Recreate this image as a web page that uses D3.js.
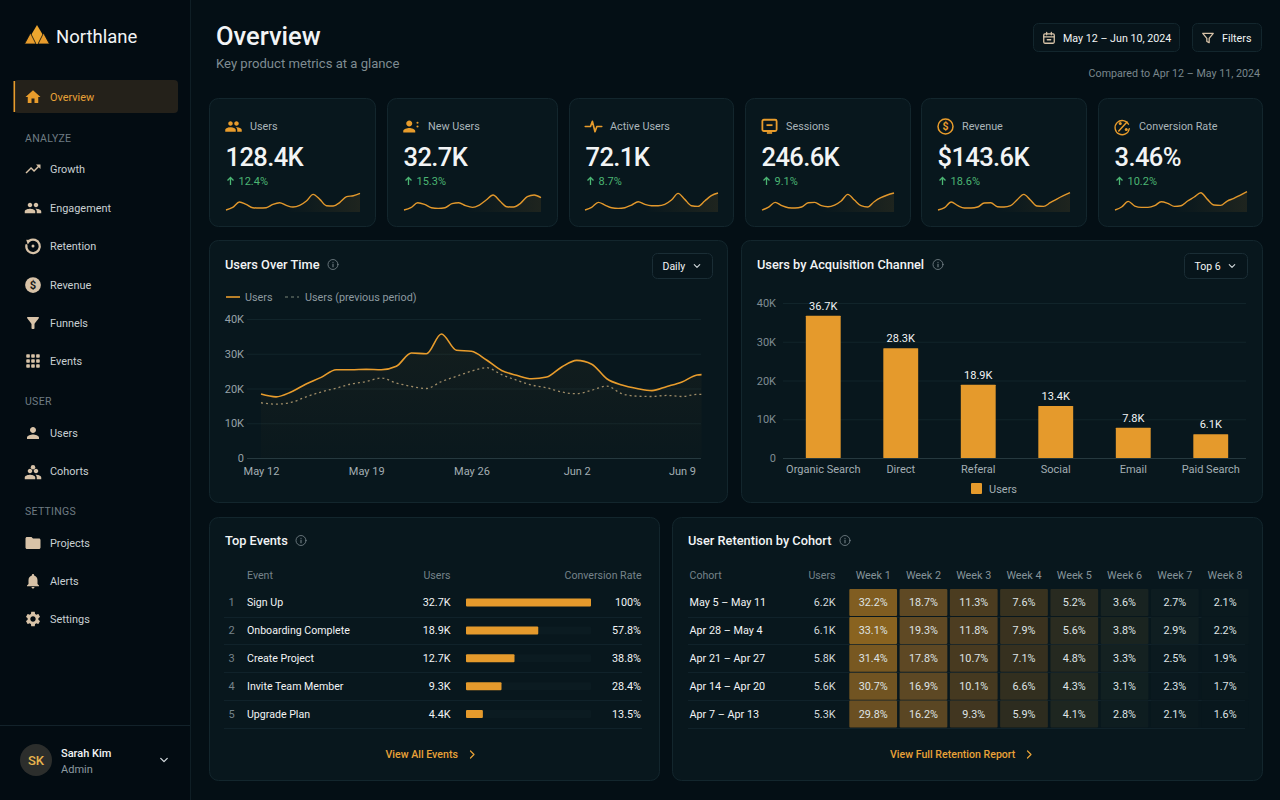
<!DOCTYPE html>
<html><head><meta charset="utf-8">
<script src="https://cdnjs.cloudflare.com/ajax/libs/d3/7.8.5/d3.min.js"></script>
<style>html,body{margin:0;padding:0;background:#030d13;overflow:hidden}svg{display:block}text{font-family:Roboto,sans-serif}</style>
</head><body><svg id="c" width="1280" height="800"></svg>
<script>
// ---------- data ----------
const navGroups = [
  {title:null, items:[["Overview","home"]]},
  {title:"ANALYZE", items:[["Growth","trend"],["Engagement","people"],["Retention","retention"],["Revenue","coin"],["Funnels","filter"],["Events","grid"]]},
  {title:"USER", items:[["Users","person"],["Cohorts","cohorts"]]},
  {title:"SETTINGS", items:[["Projects","folder"],["Alerts","bell"],["Settings","gear"]]}
];
const kpiLabels = ["Users","New Users","Active Users","Sessions","Revenue","Conversion Rate"];
const kpiValues = ["128.4K","32.7K","72.1K","246.6K","$143.6K","3.46%"];
const kpiDeltas = ["12.4%","15.3%","8.7%","9.1%","18.6%","10.2%"];
const kpiIcons = ["people2","personPlus","pulse","monitor","coinOutline","percent"];
const sparkUsers = [5,13,29,22,12,11,12,22,27,19,14,19,32,52,37,18,17,28,45,48,55];
const sparkNew = [5,12,27,22,12,10,12,24,27,18,13,20,35,50,32,15,14,25,45,50,42];
const sparkActive = [5,13,28,20,12,10,12,20,30,22,18,18,22,35,55,37,18,16,32,48,56];
const sparkSessions = [5,14,28,18,12,11,14,27,28,18,15,20,32,52,35,18,14,30,42,50,56];
const sparkRevenue = [5,12,29,18,11,11,14,26,27,15,14,18,36,52,35,17,16,27,38,48,57];
const sparkConversion = [5,14,31,17,13,13,18,30,25,16,18,32,44,57,37,20,19,32,40,50,60];
const sparks = [sparkUsers,sparkNew,sparkActive,sparkSessions,sparkRevenue,sparkConversion];
const dayOffsets = d3.range(30).concat([29.3]);
const usersDaily = [18.4,17.6,19.0,21.3,23.2,25.4,25.4,25.5,25.4,26.4,30.2,30.0,35.7,31.0,30.7,28.2,25.2,23.8,22.8,23.3,26.2,28.1,27.0,22.8,21.0,20.0,19.4,20.6,21.9,23.9,24.0];
const usersPrevious = [15.9,15.5,16.0,17.6,19.0,20.1,21.3,22.0,23.0,21.6,20.6,20.0,22.0,23.5,25.0,26.0,24.0,22.4,21.0,20.2,19.0,18.5,19.5,20.7,18.5,17.8,17.7,18.0,17.7,18.3,18.3];
const dayTickOffsets = [0,7,14,21,28];
const dayTickLabels = ["May 12","May 19","May 26","Jun 2","Jun 9"];
const yTicks = [0,10,20,30,40];
const channels = ["Organic Search","Direct","Referal","Social","Email","Paid Search"];
const channelUsers = [36.7,28.3,18.9,13.4,7.8,6.1];
const eventNames = ["Sign Up","Onboarding Complete","Create Project","Invite Team Member","Upgrade Plan"];
const eventUsers = ["32.7K","18.9K","12.7K","9.3K","4.4K"];
const eventRates = [100,57.8,38.8,28.4,13.5];
const cohortNames = ["May 5 – May 11","Apr 28 – May 4","Apr 21 – Apr 27","Apr 14 – Apr 20","Apr 7 – Apr 13"];
const cohortUsers = ["6.2K","6.1K","5.8K","5.6K","5.3K"];
const weekLabels = ["Week 1","Week 2","Week 3","Week 4","Week 5","Week 6","Week 7","Week 8"];
const retention = [
  [32.2,18.7,11.3,7.6,5.2,3.6,2.7,2.1],
  [33.1,19.3,11.8,7.9,5.6,3.8,2.9,2.2],
  [31.4,17.8,10.7,7.1,4.8,3.3,2.5,1.9],
  [30.7,16.9,10.1,6.6,4.3,3.1,2.3,1.7],
  [29.8,16.2,9.3,5.9,4.1,2.8,2.1,1.6]
];

// ---------- palette ----------
const AMBER="#e89c2c", AMBER_T="#e8a238", TAN="#d8c3a8", WHITE="#f2f4f5", LIGHT="#d3d9dc", MUTE="#8d9aa0", DIM="#76838a",
      CARD="#08171d", EDGE="#13262d", GRID="#11242a", GREEN="#4bb573";

const svg=d3.select("#c");
const defs=svg.append("defs");
const bg=defs.append("linearGradient").attr("id","areaG").attr("x1",0).attr("x2",0).attr("y1",0).attr("y2",1);
bg.append("stop").attr("offset",0).attr("stop-color",AMBER).attr("stop-opacity",.05);
bg.append("stop").attr("offset",1).attr("stop-color",AMBER).attr("stop-opacity",.01);
const sg=defs.append("linearGradient").attr("id","sparkG").attr("x1",0).attr("x2",1).attr("y1",0).attr("y2",0);
sg.append("stop").attr("offset",.45).attr("stop-color",AMBER).attr("stop-opacity",0);
sg.append("stop").attr("offset",1).attr("stop-color",AMBER).attr("stop-opacity",.1);

svg.append("rect").attr("width",1280).attr("height",800).attr("fill","#040f15");
svg.append("rect").attr("width",190).attr("height",800).attr("fill","#030c12");
svg.append("line").attr("x1",190.5).attr("x2",190.5).attr("y1",0).attr("y2",800).attr("stroke","#0f1e25");

function txt(g,x,y,s,o={}){
  return g.append("text").attr("x",x).attr("y",y).attr("dy","0.35em").text(s)
    .attr("font-size",o.size||11.5).attr("fill",o.fill||LIGHT).attr("font-weight",o.weight||400)
    .attr("text-anchor",o.anchor||"start").attr("letter-spacing",o.ls||null);
}
function card(x0,y0,x1,y1){
  svg.append("rect").attr("x",x0+.5).attr("y",y0+.5).attr("width",x1-x0).attr("height",y1-y0).attr("rx",9)
    .attr("fill",CARD).attr("stroke",EDGE);
}
const P={
 home:"M10 20v-6h4v6h5v-8h3L12 3 2 12h3v8z",
 trend:"M16 6l2.29 2.29-4.88 4.88-4-4L2 16.59 3.41 18l6-6 4 4 6.3-6.29L22 12V6z",
 people:"M16 11c1.66 0 2.99-1.34 2.99-3S17.66 5 16 5c-1.66 0-3 1.34-3 3s1.34 3 3 3zm-8 0c1.66 0 2.99-1.34 2.99-3S9.66 5 8 5C6.34 5 5 6.34 5 8s1.34 3 3 3zm0 2c-2.33 0-7 1.17-7 3.5V19h14v-2.5c0-2.33-4.67-3.5-7-3.5zm8 0c-.29 0-.62.02-.97.05 1.16.84 1.97 1.97 1.97 3.45V19h6v-2.5c0-2.33-4.67-3.5-7-3.5z",
 person:"M12 12c2.21 0 4-1.79 4-4s-1.79-4-4-4-4 1.79-4 4 1.79 4 4 4zm0 2c-2.67 0-8 1.34-8 4v2h16v-2c0-2.66-5.33-4-8-4z",
 filter:"M4.25 5.61C6.27 8.2 10 13 10 13v6c0 .55.45 1 1 1h2c.55 0 1-.45 1-1v-6s3.72-4.8 5.74-7.39c.51-.66.04-1.61-.79-1.61H5.04c-.83 0-1.3.95-.79 1.61z",
 folder:"M10 4H4c-1.1 0-2 .9-2 2v12c0 1.1.9 2 2 2h16c1.1 0 2-.9 2-2V8c0-1.1-.9-2-2-2h-8l-2-2z",
 bell:"M12 22c1.1 0 2-.9 2-2h-4c0 1.1.9 2 2 2zm6-6v-5c0-3.07-1.63-5.64-4.5-6.32V4c0-.83-.67-1.5-1.5-1.5s-1.5.67-1.5 1.5v.68C7.64 5.36 6 7.92 6 11v5l-2 2v1h16v-1l-2-2z",
 gear:"M19.14 12.94c.04-.3.06-.61.06-.94 0-.32-.02-.64-.07-.94l2.03-1.58c.18-.14.23-.41.12-.61l-1.92-3.32c-.12-.22-.37-.29-.59-.22l-2.39.96c-.5-.38-1.03-.7-1.62-.94l-.36-2.54c-.04-.24-.24-.41-.48-.41h-3.84c-.24 0-.43.17-.47.41l-.36 2.54c-.59.24-1.13.57-1.62.94l-2.39-.96c-.22-.08-.47 0-.59.22L2.74 8.87c-.12.21-.08.47.12.61l2.03 1.58c-.05.3-.09.63-.09.94s.02.64.07.94l-2.03 1.58c-.18.14-.23.41-.12.61l1.92 3.32c.12.22.37.29.59.22l2.39-.96c.5.38 1.03.7 1.62.94l.36 2.54c.05.24.24.41.48.41h3.84c.24 0 .44-.17.47-.41l.36-2.54c.59-.24 1.13-.56 1.62-.94l2.39.96c.22.08.47 0 .59-.22l1.92-3.32c.12-.22.07-.47-.12-.61l-2.01-1.58zM12 15.6c-1.98 0-3.6-1.62-3.6-3.6s1.62-3.6 3.6-3.6 3.6 1.62 3.6 3.6-1.62 3.6-3.6 3.6z"
};
function icon(name,cx,cy,size,col){
  const g=svg.append("g").attr("transform",`translate(${cx-size/2},${cy-size/2}) scale(${size/24})`);
  const st=(sel,w)=>sel.attr("fill","none").attr("stroke",col).attr("stroke-width",w||2.2).attr("stroke-linecap","round").attr("stroke-linejoin","round");
  if(P[name]) g.append("path").attr("d",P[name]).attr("fill",col);
  else if(name==="grid"){ for(let r=0;r<3;r++)for(let c=0;c<3;c++) g.append("rect").attr("x",3+c*6.6).attr("y",3+r*6.6).attr("width",4.8).attr("height",4.8).attr("rx",1).attr("fill",col); }
  else if(name==="retention"){ st(g.append("path").attr("d","M7 5A9 9 0 1 1 3.2 11"),3); g.append("path").attr("d","M3 3.5l6.5.5L5 10z").attr("fill",col); g.append("circle").attr("cx",12).attr("cy",12).attr("r",2).attr("fill",col); }
  else if(name==="coin"){ g.append("circle").attr("cx",12).attr("cy",12).attr("r",10.5).attr("fill",col);
    g.append("text").attr("x",12).attr("y",17).attr("text-anchor","middle").attr("font-size",15).attr("font-weight",700).attr("fill","#1a1a18").text("$"); }
  else if(name==="coinOutline"){ st(g.append("circle").attr("cx",12).attr("cy",12).attr("r",10),2);
    g.append("text").attr("x",12).attr("y",17).attr("text-anchor","middle").attr("font-size",14).attr("font-weight",700).attr("fill",col).text("$"); }
  else if(name==="cohorts"){ g.append("path").attr("d",P.people).attr("fill",col).attr("transform","translate(0,4)");
    g.append("circle").attr("cx",12).attr("cy",7).attr("r",3).attr("fill",col); }
  else if(name==="people2"){ g.append("path").attr("d",P.people).attr("fill",col); }
  else if(name==="personPlus"){ g.append("path").attr("d",P.person).attr("fill",col).attr("transform","translate(-3,0)");
    g.append("circle").attr("cx",20).attr("cy",7).attr("r",1.4).attr("fill",col); g.append("circle").attr("cx",20).attr("cy",12).attr("r",1.4).attr("fill",col); }
  else if(name==="pulse"){ st(g.append("path").attr("d","M1 12h7l2.5-7 3.5 14 2.5-7H23"),2.2); }
  else if(name==="monitor"){ st(g.append("rect").attr("x",2.5).attr("y",3).attr("width",19).attr("height",15).attr("rx",2),2.4);
    g.append("rect").attr("x",8).attr("y",9).attr("width",8).attr("height",2.4).attr("fill",col); g.append("rect").attr("x",8.5).attr("y",19.5).attr("width",7).attr("height",2.2).attr("fill",col); }
  else if(name==="percent"){ st(g.append("path").attr("d","M20 9A9.5 9.5 0 1 0 21 15"),1.8); st(g.append("path").attr("d","M18 6L7 18"),2);
    g.append("circle").attr("cx",9).attr("cy",8).attr("r",2).attr("fill",col); g.append("circle").attr("cx",17).attr("cy",16).attr("r",2).attr("fill",col); }
  else if(name==="calendar"){ st(g.append("rect").attr("x",3).attr("y",5).attr("width",18).attr("height",16).attr("rx",2),2.2); st(g.append("path").attr("d","M3 10h18M8 2.5v4M16 2.5v4M9 15h6"),2.2); }
  else if(name==="filterOut"){ st(g.append("path").attr("d","M3 4h18l-7 8.5V20l-4-2v-5.5z"),2.2); }
  else if(name==="chev"){ st(g.append("path").attr("d","M6 9l6 6 6-6"),2.4); }
  else if(name==="chevR"){ st(g.append("path").attr("d","M9 5l7 7-7 7"),2.4); }
  else if(name==="info"){ st(g.append("circle").attr("cx",12).attr("cy",12).attr("r",10),1.6); g.append("rect").attr("x",11).attr("y",10.5).attr("width",2).attr("height",7).attr("fill",col); g.append("circle").attr("cx",12).attr("cy",7.5).attr("r",1.2).attr("fill",col); }
}

// ---------- sidebar ----------
const logo=svg.append("g");
logo.append("polygon").attr("points","37,25 43.5,36 40.5,44 33.5,44 30.5,36").attr("fill","#eda62f");
logo.append("polygon").attr("points","30.5,33 36,44 24.5,44").attr("fill","#e89c2c").attr("stroke","#030c12").attr("stroke-width",.8);
logo.append("polygon").attr("points","43.5,33 49.5,44 38,44").attr("fill","#e89c2c").attr("stroke","#030c12").attr("stroke-width",.8);
txt(svg,56,36.5,"Northlane",{size:18.5,fill:WHITE,weight:400});

svg.append("rect").attr("x",14).attr("y",80).attr("width",164).attr("height",33).attr("rx",4).attr("fill","#24211a");
svg.append("rect").attr("x",13.5).attr("y",81).attr("width",1.6).attr("height",31).attr("fill",AMBER);
const navYs={Overview:97,Growth:169,Engagement:208,Retention:246,Revenue:285,Funnels:323,Events:361,Users:433,Cohorts:471,Projects:543,Alerts:581,Settings:619};
const secYs={ANALYZE:138,USER:401,SETTINGS:511};
navGroups.forEach(gr=>{
  if(gr.title) txt(svg,25,secYs[gr.title],gr.title,{size:10.5,fill:"#6f7c83",ls:.3});
  gr.items.forEach(([n,ic])=>{
    const on=n==="Overview";
    icon(ic,33,navYs[n],18,on?AMBER:TAN);
    txt(svg,50,navYs[n],n,{size:10.9,fill:on?AMBER_T:"#c9d0d3"});
  });
});
svg.append("line").attr("x1",0).attr("x2",190).attr("y1",725.5).attr("y2",725.5).attr("stroke","#13222a");
svg.append("circle").attr("cx",36).attr("cy",760).attr("r",16).attr("fill","#2c2e2c");
txt(svg,36,760.5,"SK",{size:13,fill:"#e8b54e",anchor:"middle",weight:500});
txt(svg,61,753,"Sarah Kim",{size:11,fill:WHITE,weight:500});
txt(svg,61,769,"Admin",{size:11,fill:MUTE});
icon("chev",164,760,13,LIGHT);

// ---------- header ----------
txt(svg,216,36.5,"Overview",{size:25.5,fill:WHITE,weight:500});
txt(svg,216,63.5,"Key product metrics at a glance",{size:13.1,fill:"#7f8c92"});
[[1033,1179],[1192,1261]].forEach(([a,b])=>svg.append("rect").attr("x",a+.5).attr("y",23.5).attr("width",b-a).attr("height",28).attr("rx",5).attr("fill","#07141a").attr("stroke",EDGE));
icon("calendar",1049,38,14,TAN);
txt(svg,1063,38,"May 12 – Jun 10, 2024",{size:10.7,fill:WHITE});
icon("filterOut",1208,38,14,TAN);
txt(svg,1222,38,"Filters",{size:10.7,fill:WHITE});
txt(svg,1260,73.5,"Compared to Apr 12 – May 11, 2024",{size:10.7,fill:"#7a878d",anchor:"end"});

// ---------- KPI cards ----------
const kpiX=[[209,375],[387,557],[569,733],[745,910],[921,1086],[1098,1262]];
const sparkX=[[226,360],[404,541],[585,718],[762,894],[938,1070],[1115,1247]];
kpiLabels.forEach((l,i)=>{
  const [a,b]=kpiX[i], x=a+16.5;
  card(a,98,b,226);
  icon(kpiIcons[i],x+8,126.5,18,AMBER);
  txt(svg,x+24.5,126.5,l,{size:10.8,fill:"#aab5ba"});
  txt(svg,x,157.5,kpiValues[i],{size:25.5,fill:WHITE,weight:500,ls:-.6});
  svg.append("path").attr("d",`M${x+5} 185V177.5M${x+2} 180.5l3-3 3 3`).attr("fill","none").attr("stroke",GREEN).attr("stroke-width",1.3);
  txt(svg,x+13,181,kpiDeltas[i],{size:11,fill:GREEN});
  const sx=d3.scaleLinear().domain([0,sparks[i].length-1]).range(sparkX[i]);
  const sy=d3.scaleLinear().domain([0,60]).range([211.7,191.7]);
  svg.append("path").attr("d",d3.area().x((d,j)=>sx(j)).y0(212).y1(d=>sy(d)).curve(d3.curveMonotoneX)(sparks[i])).attr("fill","url(#sparkG)");
  svg.append("path").attr("d",d3.line().x((d,j)=>sx(j)).y(d=>sy(d)).curve(d3.curveMonotoneX)(sparks[i])).attr("fill","none").attr("stroke","#e2982c").attr("stroke-width",1.4);
});

function styleAxis(g,col,size){
  g.select(".domain").remove();
  g.selectAll(".tick line").remove();
  g.selectAll("text").attr("fill",col).attr("font-size",size).attr("font-family","Roboto,sans-serif");
}
function dropdown(a,b,label){
  svg.append("rect").attr("x",a+.5).attr("y",253.5).attr("width",b-a).attr("height",25).attr("rx",5).attr("fill","#07151b").attr("stroke","#1a2d35");
  txt(svg,a+10.5,266,label,{size:10.5,fill:WHITE});
  icon("chev",b-15,266,11,LIGHT);
}
function title(x,y,s,ix){ txt(svg,x,y-.5,s,{size:12.8,fill:WHITE,weight:500}); icon("info",ix,y-.5,12,"#7b888e"); }

// ---------- users over time ----------
card(209,240,727,502);
title(225,265,"Users Over Time",333);
dropdown(652,712,"Daily");
svg.append("line").attr("x1",226).attr("x2",240).attr("y1",297).attr("y2",297).attr("stroke",AMBER).attr("stroke-width",1.6);
txt(svg,245,297,"Users",{size:10.8,fill:MUTE});
svg.append("line").attr("x1",285).attr("x2",299).attr("y1",297).attr("y2",297).attr("stroke","#7b8578").attr("stroke-width",1.2).attr("stroke-dasharray","3 3");
txt(svg,305,297,"Users (previous period)",{size:10.8,fill:MUTE});
const lx=d3.scaleLinear().domain([0,28]).range([261,682]);
const ly=d3.scaleLinear().domain([0,40]).range([458,319]);
svg.append("g").selectAll("line").data(yTicks.slice(1)).join("line").attr("x1",247).attr("x2",701).attr("y1",d=>ly(d)+.5).attr("y2",d=>ly(d)+.5).attr("stroke",GRID);
svg.append("line").attr("x1",247).attr("x2",701).attr("y1",458.5).attr("y2",458.5).attr("stroke","#26393f");
svg.append("g").attr("transform","translate(248,0)").call(d3.axisLeft(ly).tickValues(yTicks).tickSize(0).tickPadding(4).tickFormat(d=>d?d+"K":"0")).call(styleAxis,"#96a2a8",11);
svg.append("g").attr("transform","translate(0,463)").call(d3.axisBottom(lx).tickValues(dayTickOffsets).tickSize(0).tickPadding(4).tickFormat((d,i)=>dayTickLabels[i])).call(styleAxis,"#a3aeb3",11);
svg.append("path").attr("d",d3.area().x((d,i)=>lx(dayOffsets[i])).y0(ly(0)).y1(d=>ly(d)).curve(d3.curveMonotoneX)(usersDaily)).attr("fill","url(#areaG)");
svg.append("path").attr("d",d3.line().x((d,i)=>lx(dayOffsets[i])).y(d=>ly(d)).curve(d3.curveMonotoneX)(usersPrevious)).attr("fill","none").attr("stroke","#a08d68").attr("stroke-width",1.3).attr("stroke-dasharray","2 3");
svg.append("path").attr("d",d3.line().x((d,i)=>lx(dayOffsets[i])).y(d=>ly(d)).curve(d3.curveMonotoneX)(usersDaily)).attr("fill","none").attr("stroke",AMBER).attr("stroke-width",1.6);

// ---------- channels ----------
card(741,240,1262,502);
title(757,265,"Users by Acquisition Channel",938);
dropdown(1184,1247,"Top 6");
const bx=d3.scaleBand().domain(channels).range([784.5,1249.5]).paddingInner(.55).paddingOuter(.275);
const by=d3.scaleLinear().domain([0,40]).range([458,303]);
svg.append("g").selectAll("line").data(yTicks.slice(1)).join("line").attr("x1",783).attr("x2",1246).attr("y1",d=>by(d)+.5).attr("y2",d=>by(d)+.5).attr("stroke",GRID);
svg.append("line").attr("x1",783).attr("x2",1246).attr("y1",458.5).attr("y2",458.5).attr("stroke","#26393f");
svg.append("g").attr("transform","translate(780,0)").call(d3.axisLeft(by).tickValues(yTicks).tickSize(0).tickPadding(4).tickFormat(d=>d?d+"K":"0")).call(styleAxis,"#7f8c92",11);
svg.append("g").attr("transform","translate(0,461.5)").call(d3.axisBottom(bx).tickSize(0).tickPadding(4)).call(styleAxis,"#a3aeb3",11);
svg.append("g").selectAll("rect").data(channelUsers).join("rect")
  .attr("x",(d,i)=>bx(channels[i])).attr("width",bx.bandwidth()).attr("y",d=>by(d)).attr("height",d=>by(0)-by(d)).attr("fill","#e59a2c").attr("rx",.5);
channelUsers.forEach((d,i)=>txt(svg,bx(channels[i])+bx.bandwidth()/2,by(d)-10,d+"K",{size:11,fill:WHITE,anchor:"middle"}));
svg.append("rect").attr("x",971).attr("y",483).attr("width",11).attr("height",11).attr("rx",1).attr("fill","#e59a2c");
txt(svg,989,489,"Users",{size:11,fill:"#a3aeb3"});

// ---------- top events ----------
card(209,517,659,780);
title(225,541,"Top Events",301);
const rowY=d3.scalePoint().domain(d3.range(5)).range([602.5,714]);
txt(svg,247,575,"Event",{size:10.6,fill:DIM});
txt(svg,450.5,575,"Users",{size:10.6,fill:DIM,anchor:"end"});
txt(svg,641.5,575,"Conversion Rate",{size:10.6,fill:DIM,anchor:"end"});
const ex=d3.scaleLinear().domain([0,100]).range([466,591]);
eventNames.forEach((n,i)=>{
  const y=rowY(i);
  svg.append("line").attr("x1",224).attr("x2",642).attr("y1",Math.round(y+14)+.5).attr("y2",Math.round(y+14)+.5).attr("stroke","#10222a");
  txt(svg,231.5,y,i+1,{size:11,fill:DIM,anchor:"middle"});
  txt(svg,247,y,n,{size:10.6,fill:WHITE});
  txt(svg,450.5,y,eventUsers[i],{size:10.8,fill:WHITE,anchor:"end"});
  svg.append("rect").attr("x",ex(0)).attr("y",y-4).attr("width",ex(100)-ex(0)).attr("height",8).attr("rx",1).attr("fill","#0b1b21");
  svg.append("rect").attr("x",ex(0)).attr("y",y-4).attr("width",ex(eventRates[i])-ex(0)).attr("height",8).attr("rx",1).attr("fill","#e59a2c");
  txt(svg,641,y,eventRates[i]+"%",{size:10.8,fill:WHITE,anchor:"end"});
});
txt(svg,385.5,754.5,"View All Events",{size:10.6,fill:AMBER_T,weight:500});
icon("chevR",472,754.5,12,AMBER_T);

// ---------- retention ----------
card(672,517,1262,780);
title(688,541,"User Retention by Cohort",845);
txt(svg,689.5,575,"Cohort",{size:10.6,fill:DIM});
txt(svg,835.5,575,"Users",{size:10.6,fill:DIM,anchor:"end"});
const wx=d3.scaleBand().domain(weekLabels).range([848.3,1250]).paddingInner(.05).paddingOuter(.02);
const heat=d3.scaleLinear().domain([1.5,2.5,3,4.5,7,11,17,30,33.5]).range(["#08171d","#0b1a1f","#101f21","#232820","#35301f","#4a3b20","#5d4824","#6a4f22","#8d6620"]);
weekLabels.forEach(w=>txt(svg,wx(w)+wx.bandwidth()/2,575,w,{size:10.8,fill:"#859399",anchor:"middle"}));
cohortNames.forEach((n,i)=>{
  const y=rowY(i);
  svg.append("line").attr("x1",688).attr("x2",1245).attr("y1",Math.round(y+14)+.5).attr("y2",Math.round(y+14)+.5).attr("stroke","#10222a");
  txt(svg,689.5,y,n,{size:10.8,fill:WHITE});
  txt(svg,835.5,y,cohortUsers[i],{size:10.8,fill:LIGHT,anchor:"end"});
  retention[i].forEach((v,j)=>{
    const w=weekLabels[j];
    svg.append("rect").attr("x",wx(w)).attr("y",y-13.5).attr("width",wx.bandwidth()).attr("height",27).attr("rx",1).attr("fill",heat(v));
    txt(svg,wx(w)+wx.bandwidth()/2,y,v.toFixed(1)+"%",{size:10.8,fill:"#dfe3e4",anchor:"middle"});
  });
});
txt(svg,890,754.5,"View Full Retention Report",{size:10.6,fill:AMBER_T,weight:500});
icon("chevR",1029,754.5,12,AMBER_T);
</script></body></html>
